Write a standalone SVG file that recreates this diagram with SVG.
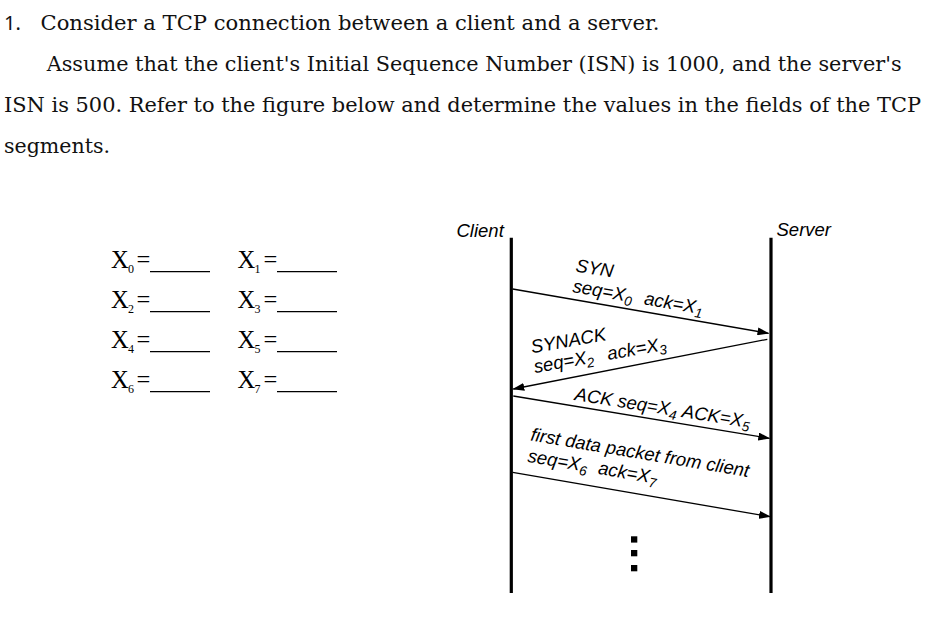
<svg xmlns="http://www.w3.org/2000/svg" width="943" height="643" viewBox="0 0 943 643">
<defs>
<style>
.hd{font-family:"DejaVu Serif","Liberation Serif",serif;font-size:20.5px;fill:#111}
.num{font-family:"Noto Sans","Liberation Sans",sans-serif;font-size:20px;fill:#111}
.xv{font-family:"Liberation Serif",serif;font-size:24.5px;fill:#000}
.xs{font-family:"Liberation Serif",serif;font-size:12px;fill:#000}
.lbl{font-family:"Liberation Sans",Arial,sans-serif;font-style:italic;font-size:18.5px;fill:#000}
.sub{font-size:13.5px}
.life{stroke:#000;stroke-width:3.2;fill:none}
.msg{stroke:#000;stroke-width:1.3;fill:none;marker-end:url(#ah)}
.ul{stroke:#000;stroke-width:1.2}
</style>
<marker id="ah" markerUnits="userSpaceOnUse" markerWidth="12" markerHeight="8" refX="11" refY="4" orient="auto">
<path d="M0,0 L12,4 L0,8 Z" fill="#000"/>
</marker>
</defs>

<g id="question">
<text class="num" x="4" y="29.5">1.</text>
<text class="hd" x="40.5" y="29.5" textLength="619" lengthAdjust="spacingAndGlyphs">Consider a TCP connection between a client and a server.</text>
<text class="hd" x="46.7" y="70.7" textLength="855" lengthAdjust="spacingAndGlyphs">Assume that the client's Initial Sequence Number (ISN) is 1000, and the server's</text>
<text class="hd" x="4" y="111.7" textLength="917" lengthAdjust="spacingAndGlyphs">ISN is 500. Refer to the figure below and determine the values in the fields of the TCP</text>
<text class="hd" x="4" y="152.5" textLength="106" lengthAdjust="spacingAndGlyphs">segments.</text>
</g>

<g id="answers">
<g id="x0"><text class="xv" x="111" y="268.3">X</text><text class="xs" x="128" y="273.3">0</text><text class="xv" x="136.5" y="268.3">=</text><line class="ul" x1="150" y1="271.7" x2="210" y2="271.7"/></g>
<g id="x1"><text class="xv" x="237.6" y="268.3">X</text><text class="xs" x="254.5" y="273.3">1</text><text class="xv" x="263.5" y="268.3">=</text><line class="ul" x1="277" y1="271.7" x2="337" y2="271.7"/></g>
<g id="x2"><text class="xv" x="111" y="308.3">X</text><text class="xs" x="128" y="313.3">2</text><text class="xv" x="136.5" y="308.3">=</text><line class="ul" x1="150" y1="311.7" x2="210" y2="311.7"/></g>
<g id="x3"><text class="xv" x="237.6" y="308.3">X</text><text class="xs" x="254.5" y="313.3">3</text><text class="xv" x="263.5" y="308.3">=</text><line class="ul" x1="277" y1="311.7" x2="337" y2="311.7"/></g>
<g id="x4"><text class="xv" x="111" y="348.3">X</text><text class="xs" x="128" y="353.3">4</text><text class="xv" x="136.5" y="348.3">=</text><line class="ul" x1="150" y1="351.7" x2="210" y2="351.7"/></g>
<g id="x5"><text class="xv" x="237.6" y="348.3">X</text><text class="xs" x="254.5" y="353.3">5</text><text class="xv" x="263.5" y="348.3">=</text><line class="ul" x1="277" y1="351.7" x2="337" y2="351.7"/></g>
<g id="x6"><text class="xv" x="111" y="388.3">X</text><text class="xs" x="128" y="393.3">6</text><text class="xv" x="136.5" y="388.3">=</text><line class="ul" x1="150" y1="391.7" x2="210" y2="391.7"/></g>
<g id="x7"><text class="xv" x="237.6" y="388.3">X</text><text class="xs" x="254.5" y="393.3">7</text><text class="xv" x="263.5" y="388.3">=</text><line class="ul" x1="277" y1="391.7" x2="337" y2="391.7"/></g>
</g>

<g id="client">
<text class="lbl" x="456.5" y="236.5">Client</text>
<line class="life" x1="511.3" y1="237.7" x2="511.3" y2="593"/>
</g>
<g id="server">
<text class="lbl" x="776.5" y="236">Server</text>
<line class="life" x1="771" y1="237.7" x2="771" y2="593"/>
</g>

<g id="connectors">
<line class="msg" x1="512.7" y1="289" x2="768.5" y2="333.3"/>
<line class="msg" x1="767.3" y1="339.3" x2="513.3" y2="389"/>
<line class="msg" x1="513.3" y1="396" x2="769.3" y2="438.3"/>
<line class="msg" x1="512.7" y1="472.3" x2="770" y2="516.7"/>
</g>

<g id="labels">
<text class="lbl" transform="translate(575,271.5) rotate(9)">SYN</text>
<text class="lbl" transform="translate(572,292) rotate(9.8)">seq=X<tspan class="sub" dy="4">0</tspan><tspan dy="-4" dx="12">ack=X</tspan><tspan class="sub" dy="4">1</tspan></text>
<text class="lbl" transform="translate(532,353.3) rotate(-10)">SYNACK</text>
<text class="lbl" transform="translate(535,373) rotate(-10)">seq=X<tspan class="sub" dy="4">2</tspan><tspan dy="-4" dx="14">ack=X</tspan><tspan class="sub" dy="4">3</tspan></text>
<text class="lbl" transform="translate(574,400) rotate(9)">ACK seq=X<tspan class="sub" dy="4">4</tspan><tspan dy="-4" dx="5">ACK=X</tspan><tspan class="sub" dy="4">5</tspan></text>
<text class="lbl" transform="translate(530,440.5) rotate(9.5)">first data packet from client</text>
<text class="lbl" transform="translate(527,461.7) rotate(9.8)">seq=X<tspan class="sub" dy="4">6</tspan><tspan dy="-4" dx="11">ack=X</tspan><tspan class="sub" dy="4">7</tspan></text>
</g>

<g id="dots" fill="#000">
<rect x="631" y="536.3" width="6.3" height="6.3"/>
<rect x="631" y="550" width="6.3" height="6.3"/>
<rect x="631" y="565" width="6.3" height="6.3"/>
</g>
</svg>
